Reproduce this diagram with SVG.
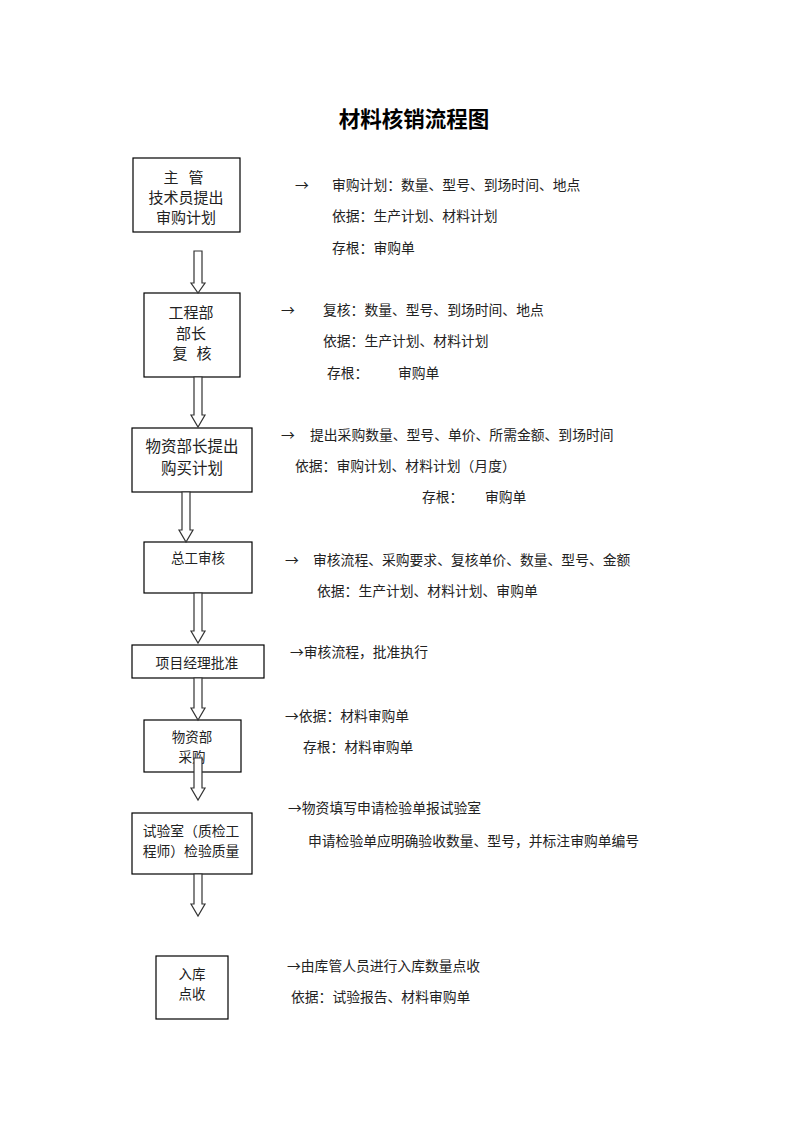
<svg xmlns="http://www.w3.org/2000/svg" width="793" height="1122" viewBox="0 0 793 1122">
<style>
.box{fill:#fff;stroke:#000;stroke-width:1.2}
.bt{font-family:"Noto Sans CJK SC",sans-serif;fill:#222;text-anchor:middle;dominant-baseline:central}
.rt{font-family:"Noto Sans CJK SC",sans-serif;fill:#222;font-size:13.8px;dominant-baseline:central}
.arr{fill:#fff;stroke:#333;stroke-width:1.2;stroke-linejoin:miter}
.title{font-family:"Noto Sans CJK SC",sans-serif;font-size:21.5px;font-weight:bold;fill:#000;text-anchor:middle;dominant-baseline:central}
</style>
<rect width="793" height="1122" fill="#fff"/>
<text class="title" x="414" y="117">材料核销流程图</text>

<g id="n1"><rect class="box" x="133" y="158" width="107" height="74"/>
<text class="bt" font-size="15" x="171" y="176">主</text>
<text class="bt" font-size="15" x="196" y="176">管</text>
<text class="bt" font-size="15" x="186" y="196">技术员提出</text>
<text class="bt" font-size="15" x="186" y="216">审购计划</text></g>

<g id="n2"><rect class="box" x="144" y="293" width="96" height="84"/>
<text class="bt" font-size="15" x="191" y="311">工程部</text>
<text class="bt" font-size="15" x="191" y="332">部长</text>
<text class="bt" font-size="15" x="180" y="352">复</text>
<text class="bt" font-size="15" x="204" y="352">核</text></g>

<g id="n3"><rect class="box" x="132" y="428" width="120" height="64"/>
<text class="bt" font-size="15.5" x="192" y="445">物资部长提出</text>
<text class="bt" font-size="15.5" x="192" y="467">购买计划</text></g>

<g id="n4"><rect class="box" x="144" y="542" width="108" height="51"/>
<text class="bt" font-size="13.5" x="198" y="557">总工审核</text></g>

<g id="n5"><rect class="box" x="132" y="645" width="132" height="33"/>
<text class="bt" font-size="13.8" x="197" y="662">项目经理批准</text></g>

<g id="n6"><rect class="box" x="144" y="720" width="97" height="52"/>
<text class="bt" font-size="13.5" x="192" y="736">物资部</text>
<text class="bt" font-size="13.5" x="192" y="756">采购</text></g>

<g id="n7"><rect class="box" x="132" y="813" width="120" height="61"/>
<text class="bt" font-size="13.8" x="191" y="830">试验室（质检工</text>
<text class="bt" font-size="13.8" x="191" y="850">程师）检验质量</text></g>

<g id="n8"><rect class="box" x="156" y="956" width="72" height="63"/>
<text class="bt" font-size="13.5" x="192" y="973">入库</text>
<text class="bt" font-size="13.5" x="192" y="993">点收</text></g>

<g id="connectors">
<path class="arr" d="M194,251 L202,251 L202,283 L205,283 L198,293 L191,283 L194,283 Z"/>
<path class="arr" d="M194,377 L202,377 L202,415 L205,415 L198,427 L191,415 L194,415 Z"/>
<path class="arr" d="M182,492 L190,492 L190,530 L193,530 L186,542 L179,530 L182,530 Z"/>
<path class="arr" d="M194,593 L202,593 L202,631 L205,631 L198,643 L191,631 L194,631 Z"/>
<path class="arr" d="M194,678 L202,678 L202,708 L205,708 L198,720 L191,708 L194,708 Z"/>
<path class="arr" d="M194,758 L202,758 L202,788 L205,788 L198,800 L191,788 L194,788 Z"/>
<path class="arr" d="M194,874 L202,874 L202,904 L205,904 L198,916 L191,904 L194,904 Z"/>
</g>

<g id="notes">
<text class="rt" x="295" y="184">→</text>
<text class="rt" x="332" y="184">审购计划：数量、型号、到场时间、地点</text>
<text class="rt" x="332" y="215">依据：生产计划、材料计划</text>
<text class="rt" x="332" y="247">存根：审购单</text>

<text class="rt" x="281" y="309">→</text>
<text class="rt" x="323" y="309">复核：数量、型号、到场时间、地点</text>
<text class="rt" x="323" y="340">依据：生产计划、材料计划</text>
<text class="rt" x="327" y="372">存根：</text>
<text class="rt" x="398" y="372">审购单</text>

<text class="rt" x="281" y="434">→</text>
<text class="rt" x="310" y="434">提出采购数量、型号、单价、所需金额、到场时间</text>
<text class="rt" x="295" y="465">依据：审购计划、材料计划（月度）</text>
<text class="rt" x="422" y="496">存根：</text>
<text class="rt" x="485" y="496">审购单</text>

<text class="rt" x="285" y="559">→</text>
<text class="rt" x="313" y="559">审核流程、采购要求、复核单价、数量、型号、金额</text>
<text class="rt" x="317" y="590">依据：生产计划、材料计划、审购单</text>

<text class="rt" x="290" y="651">→审核流程，批准执行</text>

<text class="rt" x="285" y="715">→依据：材料审购单</text>
<text class="rt" x="303" y="746">存根：材料审购单</text>

<text class="rt" x="288" y="807">→物资填写申请检验单报试验室</text>
<text class="rt" x="308" y="840">申请检验单应明确验收数量、型号，并标注审购单编号</text>

<text class="rt" x="287" y="965">→由库管人员进行入库数量点收</text>
<text class="rt" x="291" y="996">依据：试验报告、材料审购单</text>
</g>
</svg>
